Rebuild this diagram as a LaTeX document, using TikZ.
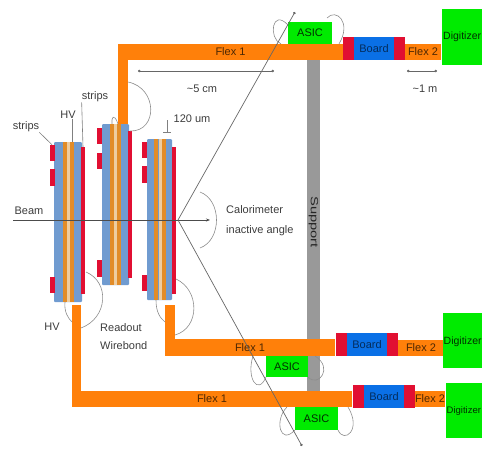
\documentclass[tikz,border=0pt]{standalone}
\usepackage{fontspec}
\setmainfont{Liberation Sans}
\usetikzlibrary{
  arrows.meta,
  positioning
}
\definecolor{flexor}{RGB}{255,128,10}
\definecolor{layerbl}{RGB}{112,155,208}
\definecolor{layeror}{RGB}{226,140,40}
\definecolor{layermid}{RGB}{238,205,160}
\definecolor{padred}{RGB}{225,15,50}
\definecolor{boardbl}{RGB}{10,112,230}
\definecolor{asicgr}{RGB}{0,235,0}
\definecolor{labeltx}{RGB}{60,60,60}

\begin{document}
\begin{tikzpicture}[
  x=1pt, y=-1pt,
  every node/.style={font=\fontsize{11}{12}\selectfont, text=labeltx, inner sep=0},
  block/.style={minimum width=#1, outer sep=0},
  flex/.style={block=#1, fill=flexor, minimum height=16pt, text=black!70!flexor},
  redcap/.style={block=11.5pt, fill=padred, minimum height=23pt},
  board/.style={block=39.5pt, fill=boardbl, minimum height=23pt, text=black!60!boardbl},
  asic/.style={block=#1, fill=asicgr, text=black!80!asicgr},
  digit/.style={fill=asicgr, outer sep=0},
  digittext/.style={anchor=west, font=\fontsize{#1}{12}\selectfont, text=black!80!asicgr},
  pad/.style={fill=padred, minimum width=5pt, minimum height=16.5pt, outer sep=0},
  wire/.style={draw=black!45, line width=0.6pt},
  leader/.style={draw=black!50, line width=0.6pt},
  cone/.style={draw=black!60, line width=0.7pt},
  dim/.style={draw=black!60, line width=0.6pt, {Circle[length=2.5pt]}-{Circle[length=2.5pt]}},
  >=Stealth
]
\clip (0,0) rectangle (482,450);

% Support bar
\node[fill=black!40, minimum width=12.5pt, minimum height=335pt, outer sep=0] (support) at (313.5,225) {};
\node[rotate=-90, xscale=1.4, font=\fontsize{10.5}{12}\selectfont, text=black!85] (supportlbl) at (313.5,222) {Support};

% Flex runs
\node[flex=225pt] (flexT) at (230.5,52) {Flex 1};
\node[block=10pt, fill=flexor, minimum height=80pt] (stemT) at (123,84) {};
\node[flex=170pt, minimum height=17pt] (flexM) at (250,347.5) {Flex 1};
\node[block=10pt, fill=flexor, minimum height=36pt] (stemM) at (170,323) {};
\node[flex=280pt] (flexL) at (212,399) {Flex 1};
\node[block=9pt, fill=flexor, minimum height=88pt] (stemL) at (76.5,349) {};

% Boards and outer flex
\foreach \n/\xb/\yb/\xf/\wf/\yf in {
  T/374/48.5/423/36/52,
  M/367/344.5/421/46/347.5,
  L/384/396.5/430/30/399
} {
  \node[flex=\wf pt] (flexout\n) at (\xf,\yf) {Flex 2};
  \node[board] (board\n) at (\xb,\yb) {Board};
  \node[redcap, left=0pt of board\n] (capl\n) {};
  \node[redcap, right=0pt of board\n] (capr\n) {};
}

% Digitizers
\node[digit, minimum width=40pt, minimum height=56pt] (digitT) at (462,37) {};
\node[digit, minimum width=39pt, minimum height=55pt] (digitM) at (462.5,340.5) {};
\node[digit, minimum width=36pt, minimum height=55pt] (digitL) at (464,410.5) {};
\node[digittext=10.5] (digitTt) at (443,37) {Digitizer};
\node[digittext=10.5] (digitMt) at (443.5,342) {Digitizer};
\node[digittext=9.5] (digitLt) at (446.5,411) {Digitizer};

% ASICs
\node[asic=44pt, minimum height=22pt] (asicT) at (310,33) {ASIC};
\node[asic=42pt, minimum height=21pt] (asicM) at (287,366.5) {ASIC};
\node[asic=43pt, minimum height=23pt] (asicL) at (316.5,418.5) {ASIC};

% Detector modules
\foreach \m/\cx/\w/\cy/\h/\oa/\ob/\oc/\rx/\ry/\rh in {
  A/68/28/222/160/65/72/68.5/83/220.5/147,
  B/115.5/27/204.5/161/112/119/115.5/130/204.5/147,
  C/159.5/25/219.5/161/156/164/160/174/220.5/147
} {
  \node[fill=layerbl, minimum width=\w pt, minimum height=\h pt, rounded corners=1pt, outer sep=0] (layer\m) at (\cx,\cy) {};
  \node[fill=layermid, minimum width=3pt, minimum height=\h pt, outer sep=0] (mid\m) at (\oc,\cy) {};
  \node[fill=layeror, minimum width=4pt, minimum height=\h pt, outer sep=0] (ora\m) at (\oa,\cy) {};
  \node[fill=layeror, minimum width=4pt, minimum height=\h pt, outer sep=0] (orb\m) at (\ob,\cy) {};
  \node[fill=padred, minimum width=4pt, minimum height=\rh pt, outer sep=0] (strip\m) at (\rx,\ry) {};
}

% Strip pads
\foreach \p/\x/\y in {
  Aa/52/153, Ab/52/177.5, Ac/52/285,
  Ba/99.5/136, Bb/99.5/161, Bc/99.5/268.5,
  Ca/144.5/150, Cb/144.5/174.5, Cc/144.5/283
} {
  \node[pad] (pad\p) at (\x,\y) {};
}

% Labels
\node (stripsl) at (26,127) {strips};
\node (hvt) at (68,115) {HV};
\node (stripsr) at (95,97) {strips};
\node (hvb) at (52,327) {HV};
\node (beamlbl) at (29,211) {Beam};
\node[align=left, anchor=west] (readout) at (100,337) {Readout\\[6pt]Wirebond};
\node[align=left, anchor=west] (caloang) at (226,221) {Calorimeter\\[8pt]inactive angle};
\node (umlbl) at (192,119) {120 um};
\node (cmlbl) at (202,89) {\textasciitilde 5 cm};
\node (mlbl) at (425,89) {\textasciitilde 1 m};

% Leaders
\draw[leader] (stripsl.south east) -- (padAa.north);
\draw[leader] (hvt.south) ++(4,0) -- (layerA.north -| orbA);
\draw[leader] (stripsr.south west) -- (stripA.north);

% Wirebonds
\draw[wire] (stemT.east |- 0,82) .. controls (158,88) and (158,132) .. (stripB.north);
\draw[wire] (stemT.south west) .. controls (114,112) and (111,118) .. (oraB.north);
\draw[wire] (layerA.south east) ++(4,-30) .. controls (110,282) and (108,318) .. (stemL.east |- 0,328);
\draw[wire] (oraA.south) .. controls (64,312) and (68,318) .. (stemL.west |- 0,322);
\draw[wire] (stripC.south) ++(2,-15) .. controls (200,290) and (200,328) .. (stemM.east |- 0,335);
\draw[wire] (oraC.south) .. controls (156,312) and (160,318) .. (stemM.west |- 0,322);
\draw[wire] (asicT.north west) ++(0,3) .. controls (272,8) and (268,38) .. (281,44);
\draw[wire] (asicT.north east) ++(-5,-4) .. controls (336,8) and (352,22) .. (339,44);
\draw[wire] (253,356) .. controls (246,378) and (258,396) .. (asicM.south west);
\draw[wire] (asicM.south east) .. controls (318,388) and (334,368) .. (315,356);
\draw[wire] (287,407) .. controls (274,420) and (280,446) .. (asicL.south west);
\draw[wire] (asicL.south east) .. controls (344,444) and (362,430) .. (348,407);

% Beam and acceptance cone
\coordinate (beamstart) at (13,220);
\coordinate (beamend) at (210,220);
\coordinate (apex) at (178,220);
\coordinate (conetop) at (295,12);
\coordinate (conebot) at (302,446);
\draw[draw=black!70, line width=0.7pt, -{Stealth[length=4pt]}] (beamstart) -- (beamend);
\draw[cone, -{Circle[length=2.5pt]}] (apex) -- (conetop);
\draw[cone, -{Circle[length=2.5pt]}] (apex) -- (conebot);
\draw[wire] (200,192) .. controls (222,200) and (222,240) .. (200,248);

% Dimensions
\coordinate (cmleft) at (138,71);
\coordinate (cmright) at (274,71);
\coordinate (mleft) at (407,71);
\coordinate (mright) at (437,71);
\draw[dim] (cmleft) -- (cmright);
\draw[dim] (mleft) -- (mright);
\coordinate (umtop) at (167,120);
\coordinate (umfoot) at (167,132);
\coordinate (umfootl) at (163,132);
\coordinate (umfootr) at (171,132);
\draw[leader] (umtop) -- (umfoot);
\draw[leader] (umfootl) -- (umfootr);

\end{tikzpicture}
\end{document}
